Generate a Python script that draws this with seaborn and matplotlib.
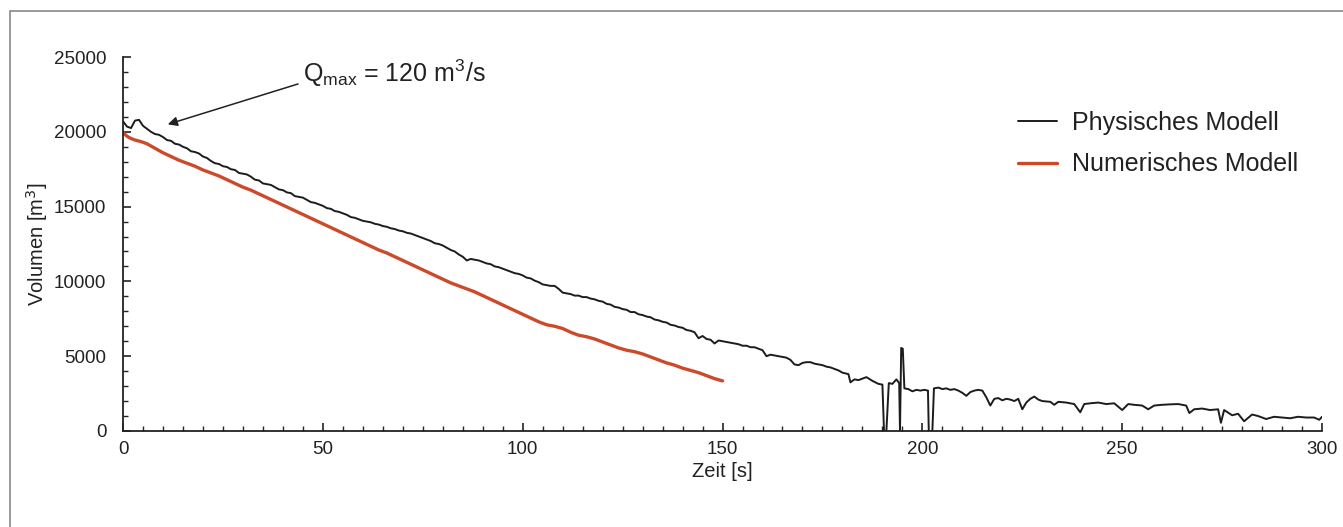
import numpy as np
import pandas as pd
import seaborn as sns
import matplotlib.pyplot as plt
from matplotlib.patches import Rectangle
from matplotlib.ticker import MultipleLocator

# Physisches Modell (gemessen), Zeit [s] / Volumen [m3]
t_phys = ([0, 1, 2, 3, 4, 5] + list(range(6, 181)) +
          [181.5, 182, 183, 184, 185, 186, 187.5, 189, 190, 190.4, 191, 191.6,
           192.5, 193.5, 194.2, 194.4, 194.7, 195.1, 195.5, 196.5, 197.5, 198.5,
           199.5, 200.5, 201.4, 201.6, 202.5, 202.9, 204, 205, 206, 207, 208,
           209, 210, 211, 212, 213, 214, 215, 216, 217, 218, 219, 220, 221, 222,
           223, 224, 225, 226, 227, 228, 229, 230, 232, 233, 234, 236, 238,
           239.5, 240.5, 242, 244, 246, 248, 250, 251.5, 253, 255, 256.5, 258,
           260, 262, 264, 266, 266.8, 268, 270, 272, 274, 274.7, 275.5, 277.5,
           279, 280.5, 282.5, 284, 286, 288, 290, 292, 294, 296, 298, 299.3,
           300])
v_phys = [20700, 20350, 20250, 20750, 20800, 20400,
          # 6 .. 180 s
          20200, 20000, 19850, 19800, 19650, 19450, 19400, 19200, 19150, 19000,
          18900, 18700, 18650, 18550, 18350, 18250, 18050, 17900, 17850, 17700,
          17650, 17500, 17450, 17250, 17200, 17150, 17000, 16800, 16750, 16550,
          16500, 16450, 16300, 16150, 16100, 15950, 15900, 15700, 15650, 15600,
          15450, 15300, 15250, 15150, 15050, 14900, 14850, 14700, 14650, 14550,
          14450, 14300, 14250, 14150, 14050, 14000, 13950, 13850, 13800, 13700,
          13650, 13550, 13500, 13400, 13350, 13250, 13200, 13100, 13000, 12900,
          12800, 12700, 12550, 12500, 12400, 12250, 12100, 12000, 11800, 11650,
          11400, 11500, 11450, 11400, 11300, 11200, 11150, 11000, 10950, 10850,
          10750, 10650, 10550, 10500, 10400, 10250, 10200, 10050, 9950, 9800,
          9750, 9700, 9700, 9500, 9250, 9200, 9150, 9050, 9050, 8950,
          8950, 8850, 8800, 8700, 8650, 8500, 8450, 8300, 8250, 8150,
          8100, 7950, 7950, 7800, 7750, 7650, 7600, 7450, 7400, 7300,
          7250, 7100, 7050, 6950, 6900, 6750, 6700, 6600, 6200, 6350,
          6150, 6100, 5850, 6050, 6000, 5950, 5900, 5850, 5800, 5700,
          5700, 5600, 5600, 5500, 5400, 5000, 5100, 5050, 5000, 4950,
          4900, 4750, 4450, 4400, 4550, 4600, 4600, 4500, 4450, 4400,
          4300, 4250, 4150, 4050, 3900,
          # 181.5 .. 300 s
          3800, 3250, 3450, 3400, 3500, 3600, 3350, 3150, 3100, 0, 0, 3200,
          3150, 3450, 3200, 0, 5550, 5500, 2850, 2800, 2650, 2750, 2700, 2750,
          2700, 0, 0, 2850, 2900, 2800, 2850, 2750, 2800, 2700, 2550, 2350,
          2600, 2700, 2750, 2700, 2250, 1700, 2150, 2200, 2050, 2150, 2100,
          2000, 2150, 1450, 1900, 2150, 2300, 2100, 2000, 1950, 1750, 1950,
          1900, 1800, 1250, 1800, 1850, 1900, 1800, 1850, 1400, 1800, 1750,
          1700, 1450, 1700, 1750, 1780, 1800, 1700, 1200, 1450, 1500, 1400,
          1450, 550, 1400, 1050, 1150, 650, 1100, 1000, 800, 950, 900, 850,
          950, 900, 900, 750, 950]

# Numerisches Modell
t_num = [0, 1, 2, 3, 4, 5, 6, 7, 8, 10, 12, 14, 16, 18, 20, 22, 24, 26, 28, 30,
         32, 34, 36, 38, 40, 42, 44, 46, 48, 50, 52, 54, 56, 58, 60, 62, 64, 66,
         68, 70, 72, 74, 76, 78, 80, 82, 84, 86, 88, 90, 92, 94, 96, 98, 100,
         102, 104, 106, 108, 110, 112, 114, 116, 118, 120, 122, 124, 126, 128,
         130, 132, 134, 136, 138, 140, 142, 144, 146, 148, 150]
v_num = [19950, 19700, 19550, 19450, 19380, 19300, 19200, 19050, 18900, 18600,
         18350, 18100, 17900, 17700, 17450, 17250, 17050, 16800, 16550, 16300,
         16100, 15850, 15600, 15350, 15100, 14850, 14600, 14350, 14100, 13850,
         13600, 13350, 13100, 12850, 12600, 12350, 12100, 11900, 11650, 11400,
         11150, 10900, 10650, 10400, 10150, 9900, 9700, 9500, 9300, 9050, 8800,
         8550, 8300, 8050, 7800, 7550, 7300, 7100, 7000, 6850, 6600, 6400, 6300,
         6150, 5950, 5750, 5550, 5400, 5300, 5150, 4950, 4750, 4550, 4400, 4200,
         4050, 3900, 3700, 3500, 3350]

labels = ["Physisches Modell", "Numerisches Modell"]
colors = ["#1c1c1c", "#cc4a2a"]

df = pd.concat([
    pd.DataFrame({"Zeit": t_phys, "Volumen": v_phys, "Modell": labels[0]}),
    pd.DataFrame({"Zeit": t_num, "Volumen": v_num, "Modell": labels[1]}),
])

sns.set_style("ticks")
plt.rcParams["font.family"] = ["Liberation Sans", "DejaVu Sans"]

fig = plt.figure(figsize=(13.43, 5.27), dpi=100)
ax = fig.add_axes([0.0916, 0.1822, 0.8928, 0.7096])

sns.lineplot(data=df[df["Modell"] == labels[0]], x="Zeit", y="Volumen",
             color=colors[0], linewidth=1.4, sort=False, ax=ax,
             label=labels[0])
sns.lineplot(data=df[df["Modell"] == labels[1]], x="Zeit", y="Volumen",
             color=colors[1], linewidth=2.4, sort=False, ax=ax,
             label=labels[1])

ax.set_xlim(0, 300)
ax.set_ylim(0, 25000)
ax.xaxis.set_major_locator(MultipleLocator(50))
ax.xaxis.set_minor_locator(MultipleLocator(5))
ax.yaxis.set_major_locator(MultipleLocator(5000))
ax.yaxis.set_minor_locator(MultipleLocator(1000))
ax.tick_params(which="major", direction="in", length=6, width=1.2,
               labelsize=13.5, color="#222222", labelcolor="#222222")
ax.tick_params(axis="x", which="major", pad=7)
ax.tick_params(axis="y", which="major", pad=12)
ax.tick_params(which="minor", direction="in", length=3.5, width=1.0,
               color="#222222")
sns.despine(ax=ax)
for s in ["left", "bottom"]:
    ax.spines[s].set_linewidth(1.3)
    ax.spines[s].set_color("#222222")

ax.set_xlabel("Zeit [s]", fontsize=14.5, labelpad=3, color="#222222")
ax.set_ylabel("Volumen [m$^3$]", fontsize=14.5, labelpad=3, color="#222222")

ax.legend(loc="upper left", bbox_to_anchor=(0.7416, 0.8325),
          bbox_transform=fig.transFigure, frameon=False, fontsize=18,
          handlelength=1.55, handletextpad=0.6, labelspacing=0.7,
          labelcolor="#222222")

# Annotation Qmax
ax.text(45, 23900, "Q$_{\\mathregular{max}}$ = 120 m$^{\\mathregular{3}}$/s",
        fontsize=18, ha="left", va="center", color="#222222")
ax.annotate("", xy=(11.2, 20500), xytext=(43.8, 23200),
            arrowprops=dict(arrowstyle="-|>", color="#222222", lw=1.1,
                            mutation_scale=14, shrinkA=0, shrinkB=0))

# Rahmen um die Abbildung
fig.patches.append(Rectangle((10 / 1343, -0.5), 1.5, 1.5 - 11 / 527,
                             transform=fig.transFigure, fill=False,
                             edgecolor="#888888", linewidth=1.2))

fig.savefig("out.png", dpi=100)
